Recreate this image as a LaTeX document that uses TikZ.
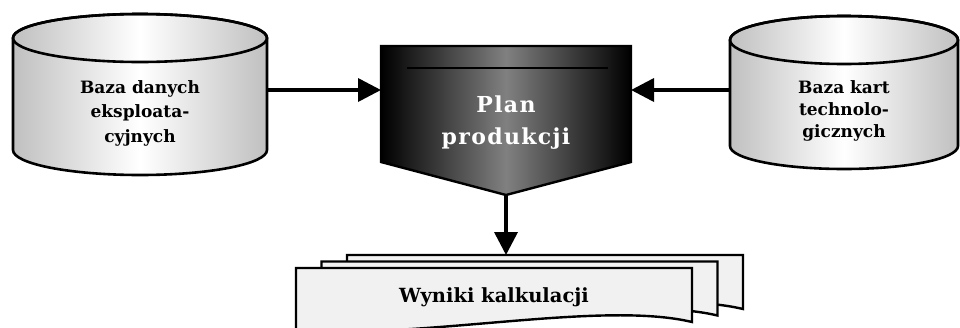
\documentclass[tikz,border=0pt]{standalone}
\usepackage{fontspec}
\setmainfont{DejaVu Serif}
\usetikzlibrary{arrows.meta}
\definecolor{cylg}{RGB}{192,192,192}
\definecolor{docfill}{RGB}{240,241,240}
\definecolor{planmid}{RGB}{128,128,128}
\begin{document}
\begin{tikzpicture}[x=1pt,y=-1pt,
  cylline/.style={draw=black,line width=2.6pt},
  cyltext/.style={align=center,inner sep=0pt,font=\bfseries\fontsize{17}{24.5}\selectfont},
  arr/.style={line width=3.6pt,-{Triangle[length=23pt,width=23pt]}},
  docline/.style={draw=black,line width=2.4pt,fill=docfill,line join=miter}]
\useasboundingbox (0,0) rectangle (960,327);
\clip (0,0) rectangle (960,327);
\fill[white] (0,0) rectangle (960,327);

% left cylinder
\shade[cylline,left color=cylg,right color=cylg,middle color=white]
  (13,38) -- (13,150) arc[start angle=180,end angle=360,x radius=127pt,y radius=25pt]
  -- (267,38) arc[start angle=0,end angle=180,x radius=127pt,y radius=24pt] -- cycle;
\draw[cylline] (140,38) ellipse[x radius=127pt,y radius=24pt];
\node[cyltext] (ltext) at (140,113) {Baza danych\\eksploata-\\cyjnych};

% right cylinder
\shade[cylline,left color=cylg,right color=cylg,middle color=white]
  (730,40) -- (730,146) arc[start angle=180,end angle=360,x radius=114pt,y radius=23pt]
  -- (958,40) arc[start angle=0,end angle=180,x radius=114pt,y radius=24pt] -- cycle;
\draw[cylline] (844,40) ellipse[x radius=114pt,y radius=24pt];
\node[cyltext,font=\bfseries\fontsize{17}{22}\selectfont] (rtext) at (844,110.5) {Baza kart\\technolo-\\gicznych};

% central shape
\shade[draw=black,line width=2.4pt,line join=miter,left color=black,right color=black,middle color=planmid]
  (381,46) -- (631,46) -- (631,162) -- (506,195) -- (381,162) -- cycle;
\draw[line width=1.6pt] (407,68) -- (608,68);
\node[align=center,inner sep=0pt,text=white,
  font=\bfseries\fontsize{22}{32}\selectfont\addfontfeature{LetterSpace=6}] (ptext) at (506,123) {Plan\\produkcji};

% documents
\begin{scope}[shift={(51,-13)}]
  \path[docline] (296,268) -- (692,268) -- (692,322) .. controls (600,300) and (420,340) .. (296,330) -- cycle;
\end{scope}
\begin{scope}[shift={(25.5,-6.5)}]
  \path[docline] (296,268) -- (692,268) -- (692,322) .. controls (600,300) and (420,340) .. (296,330) -- cycle;
\end{scope}
\path[docline] (296,268) -- (692,268) -- (692,322) .. controls (600,300) and (420,340) .. (296,330) -- cycle;
\node[inner sep=0pt,anchor=base,font=\bfseries\fontsize{19.5}{24}\selectfont] (wtext) at (494,302) {Wyniki kalkulacji};

% connectors
\coordinate (lcylE) at (267,90);
\coordinate (planW) at (381,90);
\coordinate (rcylW) at (730,90);
\coordinate (planE) at (631,90);
\coordinate (planS) at (506,195);
\coordinate (docN) at (506,255);
\draw[arr] (lcylE) -- (planW);
\draw[arr] (rcylW) -- (planE);
\draw[arr] (planS) -- (docN);
\end{tikzpicture}
\end{document}
